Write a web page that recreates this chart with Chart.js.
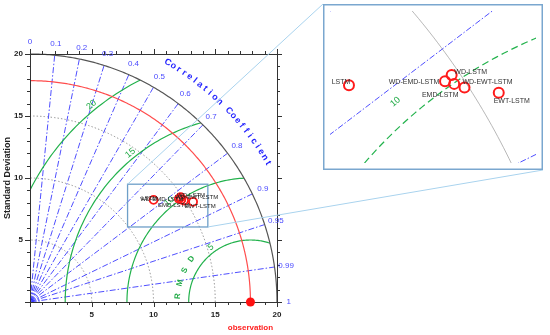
<!DOCTYPE html>
<html>
<head>
<meta charset="utf-8">
<script src="https://cdn.jsdelivr.net/npm/chart.js@4.4.0/dist/chart.umd.min.js"></script>
<style>
  html, body { margin: 0; padding: 0; background: #fff; }
  #wrap { position: relative; width: 550px; height: 335px; }
  #inset { position: absolute; left: 323px; top: 4px; }
</style>
</head>
<body>
<div id="wrap">
  <canvas id="taylor" width="550" height="335"></canvas>
  <canvas id="inset" width="220" height="166"></canvas>
</div>
<script>
  // model statistics
  const models = ['LSTM', 'WD-LSTM', 'WD-EMD-LSTM', 'EMD-LSTM', 'WD-EWT-LSTM', 'EWT-LSTM'];
  const stdDev = [12.96, 14.84, 14.65, 14.78, 14.92, 15.48];
  const corrCoef = [0.772, 0.822, 0.823, 0.829, 0.836, 0.853];
  const obsStd = 17.85;

  const corrTicks = [0, 0.1, 0.2, 0.3, 0.4, 0.5, 0.6, 0.7, 0.8, 0.9, 0.95, 0.99, 1];
  const corrLines = [0.1, 0.2, 0.3, 0.4, 0.5, 0.6, 0.7, 0.8, 0.9, 0.95, 0.99];
  const stdArcs = [5, 10, 15];
  const rmsdArcs = [5, 10, 15, 20];
  const axisLabels = [5, 10, 15, 20];
  const zoomX = [7.9, 14.4];
  const zoomY = [6.05, 9.5];
  const insetX = [9.6, 14.0];
  const insetY = [6.6, 9.8];

  const FONT = 'Arial, "Liberation Sans", sans-serif';
  const INSET = { left: 323, top: 4, w: 220, h: 166 };
  // label offsets (px) around each marker in the zoomed view
  const labelShift = [[-8, -3], [19, -3], [-31, 1], [-14, 11], [23, -6], [13, 8]];

  const points = stdDev.map((s, i) => ({ x: s * corrCoef[i], y: s * Math.sqrt(1 - corrCoef[i] ** 2) }));

  function polar(chart, r, deg, cx = 0) {
    const a = deg * Math.PI / 180;
    return [chart.scales.x.getPixelForValue(cx + r * Math.cos(a)),
            chart.scales.y.getPixelForValue(r * Math.sin(a))];
  }

  function arc(ctx, chart, r, a0, a1, cx = 0) {
    ctx.beginPath();
    for (let i = 0; i <= 180; i++) {
      const [x, y] = polar(chart, r, a0 + (a1 - a0) * i / 180, cx);
      i ? ctx.lineTo(x, y) : ctx.moveTo(x, y);
    }
    ctx.stroke();
  }

  function rotText(ctx, txt, x, y, deg) {
    ctx.save();
    ctx.translate(x, y);
    ctx.rotate(deg * Math.PI / 180);
    ctx.fillText(txt, 0, 0);
    ctx.restore();
  }

  function guides(ctx, chart, st) {
    // std dev arcs
    ctx.strokeStyle = '#9a9a9a'; ctx.lineWidth = st.grayW; ctx.setLineDash(st.grayDash);
    stdArcs.forEach(r => arc(ctx, chart, r, 0, 90));
    // correlation rays
    ctx.strokeStyle = '#4f4fff'; ctx.lineWidth = 1; ctx.setLineDash([6, 2, 1.5, 2]);
    corrLines.forEach(c => {
      const deg = Math.acos(c) * 180 / Math.PI;
      const [x0, y0] = polar(chart, 0, deg);
      const [x1, y1] = polar(chart, 20, deg);
      ctx.beginPath(); ctx.moveTo(x0, y0); ctx.lineTo(x1, y1); ctx.stroke();
    });
    // RMSD arcs around the observation
    ctx.strokeStyle = '#22b24c'; ctx.lineWidth = 1.2; ctx.setLineDash(st.greenDash);
    rmsdArcs.forEach(r => arc(ctx, chart, r, 0, 180, obsStd));
    ctx.setLineDash([]);
  }

  const taylorGrid = {
    id: 'taylorGrid',
    beforeDatasetsDraw(chart) {
      const ctx = chart.ctx;
      const xs = chart.scales.x, ys = chart.scales.y;
      const { left, right, top, bottom } = chart.chartArea;
      ctx.save();
      // clip to the quarter disc
      ctx.beginPath();
      ctx.moveTo(xs.getPixelForValue(0), ys.getPixelForValue(0));
      for (let i = 0; i <= 90; i++) {
        const [x, y] = polar(chart, 20, i);
        ctx.lineTo(x, y);
      }
      ctx.closePath();
      ctx.clip();
      guides(ctx, chart, { grayW: 1, grayDash: [1.5, 2], greenDash: [] });
      ctx.strokeStyle = '#4f4fff'; ctx.lineWidth = 0.8;
      [0.25, 0.5, 0.75].forEach(r => arc(ctx, chart, r, 0, 90));
      ctx.strokeStyle = '#ff4d4d'; ctx.lineWidth = 1.2;
      arc(ctx, chart, obsStd, 0, 90);
      ctx.restore();

      ctx.save();
      ctx.strokeStyle = '#555'; ctx.lineWidth = 1.2;
      arc(ctx, chart, 20, 0, 90);

      // frame and ticks
      ctx.strokeStyle = '#333'; ctx.lineWidth = 1;
      ctx.strokeRect(left + 0.5, top + 0.5, right - left, bottom - top);
      ctx.beginPath();
      for (let v = 0; v <= 20; v++) {
        const len = v % 5 === 0 ? 5 : 3;
        const x = Math.round(xs.getPixelForValue(v)) + 0.5;
        const y = Math.round(ys.getPixelForValue(v)) + 0.5;
        ctx.moveTo(x, bottom); ctx.lineTo(x, bottom + len);
        ctx.moveTo(x, top); ctx.lineTo(x, top - len);
        ctx.moveTo(left, y); ctx.lineTo(left - len, y);
        ctx.moveTo(right, y); ctx.lineTo(right + len, y);
      }
      ctx.stroke();

      // zoom box
      ctx.strokeStyle = '#6e9fc8'; ctx.lineWidth = 1.3;
      const bx = xs.getPixelForValue(zoomX[0]), by = ys.getPixelForValue(zoomY[1]);
      ctx.strokeRect(bx, by, xs.getPixelForValue(zoomX[1]) - bx, ys.getPixelForValue(zoomY[0]) - by);
      ctx.restore();
    },
    afterDatasetsDraw(chart) {
      const ctx = chart.ctx;
      const xs = chart.scales.x, ys = chart.scales.y;
      const { left, top, bottom } = chart.chartArea;
      ctx.save();
      ctx.textAlign = 'center'; ctx.textBaseline = 'middle';

      // axis labels
      ctx.fillStyle = '#222'; ctx.font = 'bold 8px ' + FONT;
      axisLabels.forEach(v => {
        ctx.fillText(String(v), xs.getPixelForValue(v), bottom + 13);
      });
      ctx.textAlign = 'right';
      axisLabels.forEach(v => ctx.fillText(String(v), left - 7, ys.getPixelForValue(v)));
      ctx.textAlign = 'center';
      ctx.font = 'bold 9px ' + FONT;
      rotText(ctx, 'Standard Deviation', 8, (top + bottom) / 2, -90);
      ctx.fillStyle = '#ff2020'; ctx.font = 'bold 8px ' + FONT;
      ctx.fillText('observation', xs.getPixelForValue(obsStd), bottom + 26);

      // correlation tick labels
      ctx.fillStyle = '#4a4aff'; ctx.font = '8px ' + FONT;
      corrTicks.forEach(c => {
        const [x, y] = polar(chart, 20.95, Math.acos(c) * 180 / Math.PI);
        ctx.fillText(String(c), x, y);
      });
      const title = 'Correlation Coefficient';
      ctx.fillStyle = '#1f1fff'; ctx.font = 'bold 9px ' + FONT;
      for (let i = 0; i < title.length; i++) {
        const deg = 60 - i * 1.355;
        const [x, y] = polar(chart, 22.3, deg);
        rotText(ctx, title[i], x, y, 90 - deg);
      }

      // RMSD labels
      ctx.fillStyle = '#1faa45'; ctx.font = 'bold 8px ' + FONT;
      'RMSD'.split('').forEach((ch, i) => {
        const deg = 175.5 - i * 10.5;
        const [x, y] = polar(chart, 5.9, deg, obsStd);
        rotText(ctx, ch, x, y, 90 - deg);
      });
      ctx.font = '9px ' + FONT;
      rmsdArcs.forEach(r => {
        const deg = r === 5 ? 126 : 129;
        const [x, y] = polar(chart, r + 0.45, deg, obsStd);
        rotText(ctx, String(r), x, y, 90 - deg);
      });

      // model names
      const meta = chart.getDatasetMeta(0);
      ctx.fillStyle = '#222'; ctx.font = '6px ' + FONT;
      meta.data.forEach((el, i) => {
        ctx.fillText(models[i], el.x + labelShift[i][0] * 0.55, el.y + labelShift[i][1] * 0.55);
      });

      // connectors to the zoomed view
      ctx.strokeStyle = '#a9d3ee'; ctx.lineWidth = 1;
      ctx.beginPath();
      ctx.moveTo(xs.getPixelForValue(zoomX[0]), ys.getPixelForValue(zoomY[1]));
      ctx.lineTo(INSET.left, INSET.top);
      ctx.moveTo(xs.getPixelForValue(zoomX[1]), ys.getPixelForValue(zoomY[0]));
      ctx.lineTo(INSET.left + INSET.w, INSET.top + INSET.h);
      ctx.stroke();
      ctx.restore();
    }
  };

  const insetGrid = {
    id: 'insetGrid',
    beforeDraw(chart) {
      chart.ctx.save();
      chart.ctx.fillStyle = '#fff';
      chart.ctx.fillRect(0, 0, chart.width, chart.height);
      chart.ctx.restore();
    },
    beforeDatasetsDraw(chart) {
      const ctx = chart.ctx;
      const { left, right, top, bottom } = chart.chartArea;
      ctx.save();
      ctx.beginPath(); ctx.rect(left, top, right - left, bottom - top); ctx.clip();
      guides(ctx, chart, { grayW: 0.7, grayDash: [], greenDash: [7, 4] });
      ctx.fillStyle = '#1faa45'; ctx.font = '9px ' + FONT;
      ctx.textAlign = 'center'; ctx.textBaseline = 'middle';
      const [x, y] = polar(chart, 10.45, 131, obsStd);
      rotText(ctx, '10', x, y, 90 - 131);
      ctx.restore();
    },
    afterDraw(chart) {
      const ctx = chart.ctx;
      ctx.save();
      ctx.textAlign = 'center'; ctx.textBaseline = 'middle';
      ctx.fillStyle = '#333'; ctx.font = '7px ' + FONT;
      chart.getDatasetMeta(0).data.forEach((el, i) => {
        ctx.fillText(models[i], el.x + labelShift[i][0], el.y + labelShift[i][1]);
      });
      ctx.strokeStyle = '#7aa7cf'; ctx.lineWidth = 1.5;
      ctx.strokeRect(0.75, 0.75, chart.width - 1.5, chart.height - 1.5);
      ctx.restore();
    }
  };

  const baseOptions = {
    responsive: false,
    animation: false,
    devicePixelRatio: 1,
    events: [],
    plugins: { legend: { display: false }, tooltip: { enabled: false } },
  };

  new Chart(document.getElementById('taylor'), {
    type: 'scatter',
    data: {
      datasets: [{
        data: points,
        pointRadius: 4,
        borderWidth: 1.8,
        borderColor: '#ff1a1a',
        backgroundColor: 'rgba(0,0,0,0)',
        clip: false
      }, {
        data: [{ x: obsStd, y: 0 }],
        pointRadius: 4.5,
        borderWidth: 0,
        backgroundColor: '#ff1010',
        clip: false
      }]
    },
    options: {
      ...baseOptions,
      layout: { padding: { left: 30, top: 54, right: 273, bottom: 33 } },
      scales: {
        x: { type: 'linear', min: 0, max: 20, display: false },
        y: { type: 'linear', min: 0, max: 20, display: false }
      }
    },
    plugins: [taylorGrid]
  });

  new Chart(document.getElementById('inset'), {
    type: 'scatter',
    data: {
      datasets: [{
        data: points,
        pointRadius: 5,
        borderWidth: 2,
        borderColor: '#ff1a1a',
        backgroundColor: 'rgba(0,0,0,0)'
      }]
    },
    options: {
      ...baseOptions,
      layout: { padding: 0 },
      scales: {
        x: { type: 'linear', min: insetX[0], max: insetX[1], display: false },
        y: { type: 'linear', min: insetY[0], max: insetY[1], display: false }
      }
    },
    plugins: [insetGrid]
  });
</script>
</body>
</html>
